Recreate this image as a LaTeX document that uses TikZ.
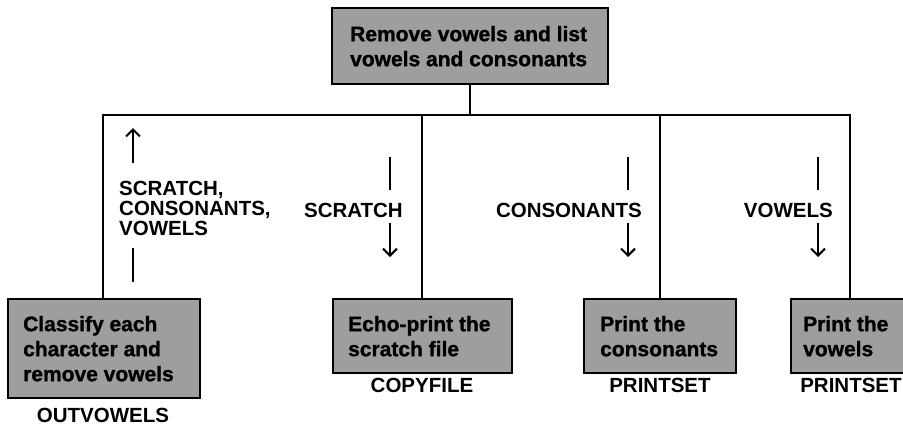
\documentclass[tikz,border=0pt]{standalone}
\usepackage{fontspec}
\setmainfont{Liberation Sans}
\newfontfamily\heavyfont[FakeBold=1.2]{Liberation Sans Bold}
\usetikzlibrary{arrows.meta}
\begin{document}
\begin{tikzpicture}[x=1pt,y=-1pt,
  procbox/.style={draw=black,line width=2.4pt,fill=black!38,rectangle,inner sep=0pt,anchor=north west},
  boxtext/.style={inner sep=0pt,align=left,anchor=west,
    font=\heavyfont\fontsize{21}{25}\selectfont},
  modname/.style={font=\bfseries\fontsize{20.5}{20}\selectfont,inner sep=0pt},
  flowlbl/.style={font=\bfseries\fontsize{20.5}{20}\selectfont,inner sep=0pt,align=left},
  conn/.style={line width=2pt},
  flowarrow/.style={line width=2pt,-{Straight Barb[length=7pt,width=14pt,line width=2pt]}},
  flowbar/.style={line width=2pt}]
\useasboundingbox (0,0) rectangle (903,426);
\clip (0,0) rectangle (903,426);
% top box
\node[procbox,minimum width=276pt,minimum height=76pt] (top) at (331,7) {};
\node[boxtext] (topt) at ([xshift=19pt]top.west) {Remove vowels and list\\vowels and consonants};
% bottom boxes
\node[procbox,minimum width=192pt,minimum height=99pt] (b1) at (7,298) {};
\node[boxtext] (b1t) at ([xshift=16pt]b1.west) {Classify each\\character and\\remove vowels};
\node[procbox,minimum width=179pt,minimum height=74pt] (b2) at (332,298) {};
\node[boxtext] (b2t) at ([xshift=16pt]b2.west) {Echo-print the\\scratch file};
\node[procbox,minimum width=152pt,minimum height=74pt] (b3) at (583,298) {};
\node[boxtext] (b3t) at ([xshift=17pt]b3.west) {Print the\\consonants};
\node[procbox,minimum width=130pt,minimum height=74pt] (b4) at (790,298) {};
\node[boxtext] (b4t) at ([xshift=13pt]b4.west) {Print the\\vowels};
% module names
\node[modname] (n1) at (103,415.5) {OUTVOWELS};
\node[modname] (n2) at (422,385) {COPYFILE};
\node[modname] (n3) at (660,385) {PRINTSET};
\node[modname] (n4) at (851,385) {PRINTSET};
% connectors
\coordinate (bus) at (470,115);
\coordinate (busL) at (103,115);
\coordinate (busR) at (850,115);
\coordinate (bus2) at (422,115);
\coordinate (bus3) at (660,115);
\draw[conn] (top.south -| bus) -- (bus);
\draw[conn] (b1.north -| busL) -- (busL) -- (busR) -- (b4.north -| busR);
\draw[conn] (bus2) -- (b2.north -| bus2);
\draw[conn] (bus3) -- (b3.north -| bus3);
% data flow labels
\node[flowlbl,anchor=west] (fA) at (119,208) {SCRATCH,\\CONSONANTS,\\VOWELS};
\node[flowlbl,anchor=east] (fB) at (403,210) {SCRATCH};
\node[flowlbl,anchor=east] (fC) at (642,210) {CONSONANTS};
\node[flowlbl,anchor=east] (fD) at (833,210) {VOWELS};
% arrows
\coordinate (aA1) at (133,163); \coordinate (aA2) at (133,128);
\coordinate (aA3) at (133,248); \coordinate (aA4) at (133,282);
\draw[flowarrow] (aA1) -- (aA2);
\draw[flowbar] (aA3) -- (aA4);
\foreach \n/\x in {B/390,C/628,D/818}{
  \coordinate (a\n1) at (\x,157); \coordinate (a\n2) at (\x,190);
  \coordinate (a\n3) at (\x,223); \coordinate (a\n4) at (\x,257);
  \draw[flowbar] (a\n1) -- (a\n2);
  \draw[flowarrow] (a\n3) -- (a\n4);
}
\end{tikzpicture}
\end{document}
